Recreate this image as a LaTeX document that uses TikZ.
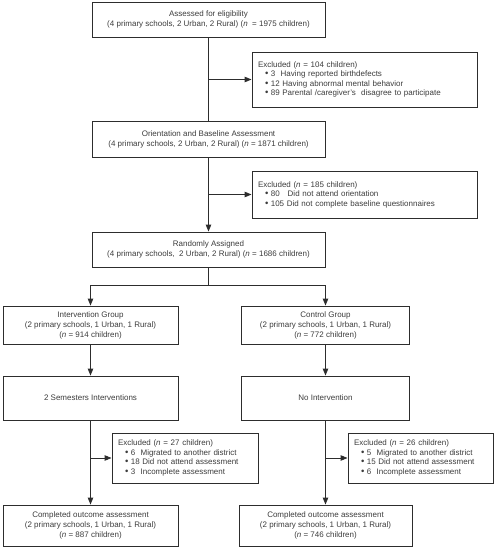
\documentclass[tikz,border=0pt]{standalone}
\usepackage{fontspec}
\setmainfont{Liberation Sans}
\usetikzlibrary{arrows.meta}
\definecolor{linec}{RGB}{45,45,45}
\definecolor{textc}{RGB}{60,60,60}
\newcommand{\mybul}{\hspace*{7pt}{\fontsize{9.5}{9.4}\selectfont\textbullet}\hspace{2.5pt}}
\begin{document}
\begin{tikzpicture}[x=1pt,y=-1pt,
  box/.style={draw=linec, line width=0.9pt, text=textc, align=center, inner sep=0pt, font=\fontsize{8}{10}\selectfont},
  exbox/.style={draw=linec, line width=0.9pt, text=textc, align=left, inner xsep=6pt, inner ysep=0pt, font=\fontsize{8}{9.5}\selectfont},
  arr/.style={draw=linec, line width=0.9pt, -{Triangle[length=7pt,width=5.5pt]}},
  ln/.style={draw=linec, line width=0.9pt}]
\useasboundingbox (0,0) rectangle (496,550);

\node[box, minimum width=233pt, minimum height=35pt] (b1) at (208.5,19.5) {Assessed for eligibility\\(4 primary schools, 2 Urban, 2 Rural) (\textit{n}\ \ = 1975 children)};
\node[exbox, text width=213pt, minimum height=55pt] (e1) at (364.5,79.5) {Excluded (\textit{n} = 104 children)\\ \mybul 3\ \ Having reported birthdefects\\ \mybul 12 Having abnormal mental behavior\\ \mybul 89 Parental /caregiver's\ \ disagree to participate};
\node[box, minimum width=233pt, minimum height=36pt] (b2) at (208.5,139) {Orientation and Baseline Assessment\\(4 primary schools, 2 Urban, 2 Rural) (\textit{n} = 1871 children)};
\node[exbox, text width=213pt, minimum height=47pt] (e2) at (364.5,194.5) {Excluded (\textit{n} = 185 children)\\ \mybul 80\ \ \ Did not attend orientation\\ \mybul 105 Did not complete baseline questionnaires};
\node[box, minimum width=233pt, minimum height=35pt] (b3) at (208.5,249.5) {Randomly Assigned\\(4 primary schools,\ \ 2 Urban, 2 Rural) (\textit{n} = 1686 children)};

\node[box, minimum width=175pt, minimum height=38pt] (b4) at (90.5,325) {Intervention Group\\(2 primary schools, 1 Urban, 1 Rural)\\(\textit{n} = 914 children)};
\node[box, minimum width=168pt, minimum height=38pt] (b5) at (325.5,325) {Control Group\\(2 primary schools, 1 Urban, 1 Rural)\\(\textit{n} = 772 children)};
\node[box, minimum width=175pt, minimum height=44pt] (b6) at (90.5,398) {2 Semesters Interventions};
\node[box, minimum width=168pt, minimum height=44pt] (b7) at (325.5,398) {No Intervention};
\node[exbox, text width=134pt, minimum height=50pt] (e3) at (185,458) {Excluded (\textit{n} = 27 children)\\ \mybul 6\ \ Migrated to another district\\ \mybul 18 Did not attend assessment\\ \mybul 3\ \ Incomplete assessment};
\node[exbox, text width=133pt, minimum height=50pt] (e4) at (420.5,458) {Excluded (\textit{n} = 26 children)\\ \mybul 5\ \ Migrated to another district\\ \mybul 15 Did not attend assessment\\ \mybul 6\ \ Incomplete assessment};
\node[box, minimum width=175pt, minimum height=41pt] (b8) at (90.5,525.5) {Completed outcome assessment\\(2 primary schools, 1 Urban, 1 Rural)\\(\textit{n} = 887 children)};
\node[box, minimum width=173pt, minimum height=41pt] (b9) at (325.5,525.5) {Completed outcome assessment\\(2 primary schools, 1 Urban, 1 Rural)\\(\textit{n} = 746 children)};

\draw[ln] (b1) -- (b2);
\draw[arr] (b1.south |- e1.west) -- (e1.west);
\draw[arr] (b2) -- (b3);
\draw[arr] (b2.south |- e2.west) -- (e2.west);
\coordinate (split) at (208.5,285);
\draw[ln] (b3) -- (split);
\draw[arr] (split) -| (b4);
\draw[arr] (split) -| (b5);
\draw[arr] (b4) -- (b6);
\draw[arr] (b5) -- (b7);
\draw[arr] (b6) -- (b8);
\draw[arr] (b7) -- (b9);
\draw[arr] (b6.south |- e3.west) -- (e3.west);
\draw[arr] (b7.south |- e4.west) -- (e4.west);
\end{tikzpicture}
\end{document}
